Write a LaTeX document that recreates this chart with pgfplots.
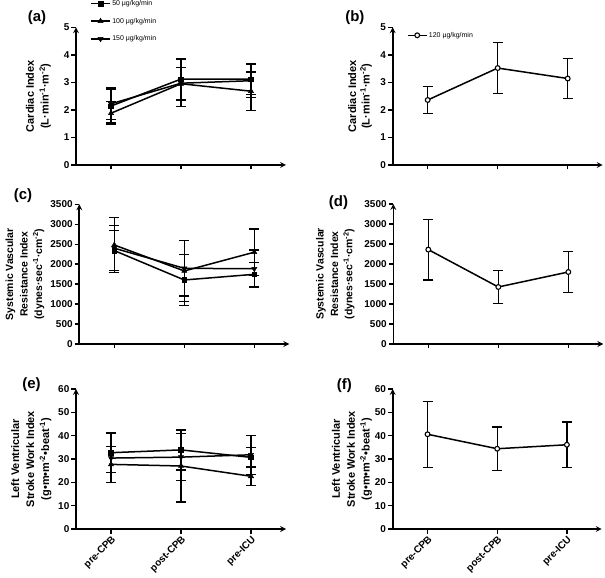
\documentclass[border=0pt]{standalone}
\usepackage{fontspec}
\setmainfont{Liberation Sans}
\usepackage{graphicx}
\usepackage{pgfplots}
\pgfplotsset{compat=1.18}

\tikzset{panelletter/.style={font=\bfseries\fontsize{15}{15}\selectfont}}
\pgfplotsset{
  panel/.style={
    scale only axis, width=210bp, height=140bp,
    xmin=-0.5, xmax=2.5, ymin=0,
    axis lines=left,
    every non boxed x axis/.append style={x axis line style=-},
    every non boxed y axis/.append style={y axis line style=-},
    axis line style={line width=1.6bp, black},
    tick style={line width=1.4bp, black},
    tick align=outside, major tick length=4.5bp,
    xtick={0,1,2}, xticklabels={,,},
    /pgf/number format/assume math mode=true,
    /pgf/number format/1000 sep={},
    yticklabel={\pgfmathprintnumber{\tick}},
    yticklabel style={font=\bfseries\fontsize{10}{10}\selectfont, inner sep=2bp},
    xticklabel style={font=\bfseries\fontsize{10}{10}\selectfont, rotate=45, anchor=north east, inner sep=1bp},
    ylabel style={font=\bfseries\fontsize{11}{15}\selectfont, align=center, anchor=center},
    clip=false,
  },
  err/.style={error bars/.cd, y dir=both, y explicit,
    error bar style={line width=1.3bp, black},
    error mark options={rotate=90, line width=1.3bp, mark size=5bp, black}},
  s50/.style={black, line width=1.5bp, mark=square*, mark size=2.3bp, mark options={solid, line width=0.5bp}, err},
  s100/.style={black, line width=1.5bp, mark=triangle*, mark size=3bp, mark options={solid, line width=0.5bp}, err},
  s150/.style={black, line width=1.5bp, mark=triangle*, mark size=3bp, mark options={solid, line width=0.5bp, rotate=180}, err},
  s120/.style={black, line width=1.5bp, mark=*, mark size=2.4bp, mark options={solid, fill=white, line width=1.1bp}, err},
}

\begin{document}
\begin{tikzpicture}
\path[use as bounding box] (0,0) rectangle (605bp,578bp);

% (a) cardiac index, three doses
\begin{axis}[panel, at={(76bp,413bp)}, anchor=south west, height=137.7bp,
  ymax=5, ytick={0,1,2,3,4,5},
  ylabel={Cardiac Index\\(L·min\textsuperscript{-1}·m\textsuperscript{-2})},
  ylabel style={at={(axis description cs:-0.179,0.5)}},
  legend style={draw=none, fill=none, font=\fontsize{7}{8}\selectfont,
    at={(axis description cs:0.067,1.044)}, anchor=west,
    row sep=8bp, inner sep=0pt, nodes={inner sep=1.5bp}},
  legend cell align=left,
  legend image code/.code={\draw[mark repeat=2,mark phase=2,#1] plot coordinates {(0bp,0bp) (9.5bp,0bp) (19bp,0bp)};},
]
\addplot[s50] coordinates {(0,2.14) +- (0,0.62) (1,3.12) +- (0,0.73) (2,3.12) +- (0,0.55)};
\addlegendentry{50 μg/kg/min}
\addplot[s100] coordinates {(0,1.88) +- (0,0.42) (1,2.95) +- (0,0.60) (2,2.68) +- (0,0.70)};
\addlegendentry{100 μg/kg/min}
\addplot[s150] coordinates {(0,2.22) +- (0,0.58) (1,2.97) +- (0,0.85) (2,3.06) +- (0,0.62)};
\addlegendentry{150 μg/kg/min}
\node[panelletter] at (axis description cs:-0.186,1.067) {(a)};
\end{axis}

% (b) cardiac index, 120
\begin{axis}[panel, at={(392.7bp,413bp)}, anchor=south west, height=137.7bp,
  ymax=5, ytick={0,1,2,3,4,5},
  ylabel={Cardiac Index\\(L·min\textsuperscript{-1}·m\textsuperscript{-2})},
  ylabel style={at={(axis description cs:-0.156,0.5)}, font=\bfseries\fontsize{11}{13.5}\selectfont},
  legend style={draw=none, fill=none, font=\fontsize{7}{8}\selectfont,
    at={(axis description cs:0.067,0.942)}, anchor=west,
    inner sep=0pt, nodes={inner sep=1.5bp}},
  legend cell align=left,
  legend image code/.code={\draw[mark repeat=2,mark phase=2,#1] plot coordinates {(0bp,0bp) (9.5bp,0bp) (19bp,0bp)};},
]
\addplot[s120] coordinates {(0,2.36) +- (0,0.50) (1,3.52) +- (0,0.93) (2,3.14) +- (0,0.72)};
\addlegendentry{120 μg/kg/min}
\node[panelletter] at (axis description cs:-0.18,1.067) {(b)};
\end{axis}

% (c) SVRI, three doses
\begin{axis}[panel, at={(79.3bp,234bp)}, anchor=south west, height=139.7bp,
  ymax=3500, ytick={0,500,...,3500},
  ylabel={Systemic Vascular\\Resistance Index\\(dynes·sec\textsuperscript{-1}·cm\textsuperscript{-2})},
  ylabel style={at={(axis description cs:-0.259,0.5)}, font=\bfseries\fontsize{10.5}{14.5}\selectfont},
]
\addplot[s50] coordinates {(0,2340) +- (0,500) (1,1604) +- (0,640) (2,1746) +- (0,300)};
\addplot[s100] coordinates {(0,2480) +- (0,690) (1,1830) +- (0,760) (2,2300) +- (0,580)};
\addplot[s150] coordinates {(0,2400) +- (0,560) (1,1896) +- (0,690) (2,1885) +- (0,470)};
\node[panelletter] at (axis description cs:-0.268,1.062) {(c)};
\end{axis}

% (d) SVRI, 120
\begin{axis}[panel, at={(393.3bp,234bp)}, anchor=south west,
  ymax=3500, ytick={0,500,...,3500},
  ylabel={Systemic Vascular\\Resistance Index\\(dynes·sec\textsuperscript{-1}·cm\textsuperscript{-2})},
  ylabel style={at={(axis description cs:-0.276,0.5)}, font=\bfseries\fontsize{10.5}{14.5}\selectfont},
]
\addplot[s120] coordinates {(0,2360) +- (0,760) (1,1425) +- (0,415) (2,1800) +- (0,510)};
\node[panelletter] at (axis description cs:-0.261,1.011) {(d)};
\end{axis}

% (e) LVSWI, three doses
\begin{axis}[panel, at={(76bp,49bp)}, anchor=south west,
  ymax=60, ytick={0,10,...,60},
  xticklabels={pre-CPB,post-CPB,pre-ICU},
  ylabel={Left Ventricular\\Stroke Work Index\\(g•m•m\textsuperscript{-2}•beat\textsuperscript{-1})},
  ylabel style={at={(axis description cs:-0.213,0.5)}},
]
\addplot[s50] coordinates {(0,32.7) +- (0,8.5) (1,33.9) +- (0,8.6) (2,30.7) +- (0,4.3)};
\addplot[s100] coordinates {(0,27.7) +- (0,7.8) (1,27.0) +- (0,15.4) (2,22.6) +- (0,4.0)};
\addplot[s150] coordinates {(0,30.4) +- (0,10.5) (1,30.8) +- (0,10.0) (2,31.8) +- (0,8.4)};
\node[panelletter] at (axis description cs:-0.212,1.029) {(e)};
\end{axis}

% (f) LVSWI, 120
\begin{axis}[panel, at={(392.7bp,49bp)}, anchor=south west, width=209bp,
  ymax=60, ytick={0,10,...,60},
  xticklabels={pre-CPB,post-CPB,pre-ICU},
  ylabel={Left Ventricular\\Stroke Work Index\\(g•m•m\textsuperscript{-2}•beat\textsuperscript{-1})},
  ylabel style={at={(axis description cs:-0.195,0.5)}},
]
\addplot[s120] coordinates {(0,40.6) +- (0,14.1) (1,34.4) +- (0,9.3) (2,36.1) +- (0,9.8)};
\node[panelletter] at (axis description cs:-0.231,1.021) {(f)};
\end{axis}
\end{tikzpicture}
\end{document}
